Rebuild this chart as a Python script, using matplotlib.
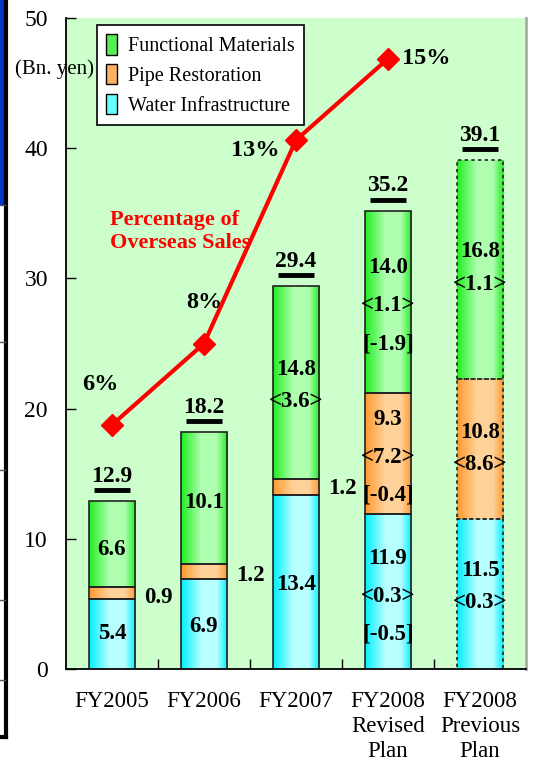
import numpy as np
import matplotlib
matplotlib.use('Agg')
import matplotlib.pyplot as plt
from matplotlib.patches import Patch, Rectangle
from matplotlib.lines import Line2D
from matplotlib.colors import LinearSegmentedColormap

categories = ['FY2005', 'FY2006', 'FY2007', 'FY2008\nRevised\nPlan', 'FY2008\nPrevious\nPlan']
water = [5.4, 6.9, 13.4, 11.9, 11.5]
pipe = [0.9, 1.2, 1.2, 9.3, 10.8]
functional = [6.6, 10.1, 14.8, 14.0, 16.8]
totals = ['12.9', '18.2', '29.4', '35.2', '39.1']
overseas_pct = [6, 8, 13, 15]
pct_labels = ['6%', '8%', '13%', '15%']

water_labels = ['5.4', '6.9', '13.4', '11.9\n<0.3>\n[-0.5]', '11.5\n<0.3>']
pipe_labels = ['0.9', '1.2', '1.2', '9.3\n<7.2>\n[-0.4]', '10.8\n<8.6>']
func_labels = ['6.6', '10.1', '14.8\n<3.6>', '14.0\n<1.1>\n[-1.9]', '16.8\n<1.1>']

SERIF = 'Liberation Serif'
BG = '#CCFFCC'

fig = plt.figure(figsize=(5.34, 7.62), dpi=100)
ax = fig.add_axes([66 / 534, 93 / 762, 460 / 534, 651 / 762])
ax.set_facecolor(BG)

x = np.arange(len(categories))
width = 0.51
bottoms2 = np.array(water) + np.array(pipe)


def gradient_bars(bars, dark, light):
    cmap = LinearSegmentedColormap.from_list('g', [dark, light, light, dark])
    grad = np.linspace(0, 1, 64).reshape(1, -1)
    grad = np.where(grad < 0.65, grad / 0.65 * 0.5, 0.5 + (grad - 0.65) / 0.35 * 0.5)
    for b in bars:
        x0, y0 = b.get_x(), b.get_y()
        im = ax.imshow(grad, cmap=cmap, aspect='auto', extent=[x0, x0 + b.get_width(), y0, y0 + b.get_height()],
                       zorder=2, vmin=0, vmax=1)
        im.set_clip_path(b)


def stack(vals, bottom, dark, light):
    bars = ax.bar(x, vals, width, bottom=bottom, color=light, edgecolor='#222222', linewidth=1.2, zorder=3)
    for b in bars:
        b.set_facecolor('none')
    gradient_bars(bars, dark, light)
    bars[-1].set_linestyle((0, (2, 2)))
    return bars


stack(water, 0, '#00F0FF', '#B8FFFF')
stack(pipe, water, '#FF9A30', '#FFD29A')
stack(functional, bottoms2, '#22EE22', '#B0FFB0')

ax.set_xlim(-0.5, 4.5)
ax.set_ylim(0, 50)
ax.set_yticks([0, 10, 20, 30, 40, 50])
ax.set_xticks(x)
ax.set_xticklabels(categories, family=SERIF, fontsize=16.5, linespacing=1.25, va='top')
ax.set_xticks(np.arange(0.5, 4.5, 1), minor=True)
ax.tick_params(axis='x', which='major', length=0, pad=16)
ax.tick_params(axis='x', which='minor', direction='in', length=7, width=1)
ax.tick_params(axis='y', direction='in', length=7, width=1, pad=13, labelsize=17)
for lab in ax.get_yticklabels():
    lab.set_family(SERIF)
ax.spines['top'].set_visible(False)
ax.spines['right'].set_color('#AAAAAA')
ax.spines['right'].set_linewidth(2)
ax.spines['left'].set_linewidth(1.3)
ax.spines['bottom'].set_linewidth(1.3)

# label text style; line gap differs between 2- and 3-line labels
lbl = dict(ha='center', va='center', family=SERIF, fontweight='bold', fontsize=16.5, zorder=5)
gap = [1.0, 1.0, 1.7, 2.05, 1.7]
water_dy = [0.0, -0.15, -0.2, -0.35, 0.6]
pipe_dy = [-0.35, -0.35, -0.1, -0.3, 0.05]
func_dy = [-0.4, -0.35, -0.2, -0.3, 0.1]
for i in range(len(categories)):
    ax.text(x[i], water[i] / 2 + water_dy[i], water_labels[i], linespacing=gap[i], **lbl)
    ax.text(x[i], bottoms2[i] + functional[i] / 2 + func_dy[i], func_labels[i], linespacing=gap[i], **lbl)
    py = water[i] + pipe[i] / 2 + pipe_dy[i]
    if i < 3:
        ax.text(x[i] + width / 2 + 0.09, py, pipe_labels[i], **{**lbl, 'ha': 'left'})
    else:
        ax.text(x[i], py, pipe_labels[i], linespacing=gap[i], **lbl)
    top = bottoms2[i] + functional[i]
    ax.text(x[i], top + 1.1, totals[i], ha='center', va='bottom', family=SERIF,
            fontweight='bold', fontsize=17, zorder=5)
    ax.plot([x[i] - 0.2, x[i] + 0.2], [top + 0.85, top + 0.85], color='black', lw=3.5,
            solid_capstyle='butt', zorder=5)

# overseas sales percentage on a hidden second scale
ax2 = ax.twinx()
ax2.set_ylim(0, 16)
ax2.axis('off')
ax2.plot(x[:4], overseas_pct, color='#FF0000', lw=3, marker='D', markersize=11, zorder=6)
offsets = [(-0.13, 1.0, 'center'), (0.0, 1.0, 'center'), (-0.18, -0.25, 'right'), (0.15, 0.0, 'left')]
for i, (dx, dy, ha) in enumerate(offsets):
    ax2.text(x[i] + dx, overseas_pct[i] + dy, pct_labels[i], ha=ha, va='center', family=SERIF,
             fontweight='bold', fontsize=17.5)
ax2.text(-0.02, 10.75, 'Percentage of\nOverseas Sales', color='#FF0000', family=SERIF, fontweight='bold',
         fontsize=16, va='center', ha='left', linespacing=1.15)

handles = [Patch(facecolor='#55EE55', edgecolor='black', label='Functional Materials'),
           Patch(facecolor='#FFB060', edgecolor='black', label='Pipe Restoration'),
           Patch(facecolor='#66FFFF', edgecolor='black', label='Water Infrastructure')]
leg = ax2.legend(handles=handles, loc='upper left', bbox_to_anchor=(31 / 460, 1 - 7 / 651), fancybox=False,
                 framealpha=1, edgecolor='black', prop={'family': SERIF, 'size': 14.5},
                 handlelength=0.55, handleheight=1.2, handletextpad=0.55, borderpad=0.45,
                 labelspacing=0.38, borderaxespad=0)
leg.get_frame().set_linewidth(1.2)

fig.text(15 / 534, 1 - 69 / 762, '(Bn. yen)', family=SERIF, fontsize=15, va='center', ha='left')

# cropped slide edge on the left
fig.add_artist(Rectangle((0, 1 - 205 / 762), 5 / 534, 205 / 762, transform=fig.transFigure,
                         facecolor='#0033CC', edgecolor='none'))
fig.add_artist(Line2D([6 / 534, 6 / 534], [1, 1 - 737 / 762], transform=fig.transFigure, color='black', lw=3))
fig.add_artist(Line2D([0, 6 / 534], [1 - 737 / 762, 1 - 737 / 762], transform=fig.transFigure, color='black', lw=3))
for yy in [205, 342, 470, 600, 680]:
    fig.add_artist(Line2D([0, 5 / 534], [1 - yy / 762, 1 - yy / 762], transform=fig.transFigure,
                          color='#555555', lw=1))

fig.savefig('out.png', dpi=100)
